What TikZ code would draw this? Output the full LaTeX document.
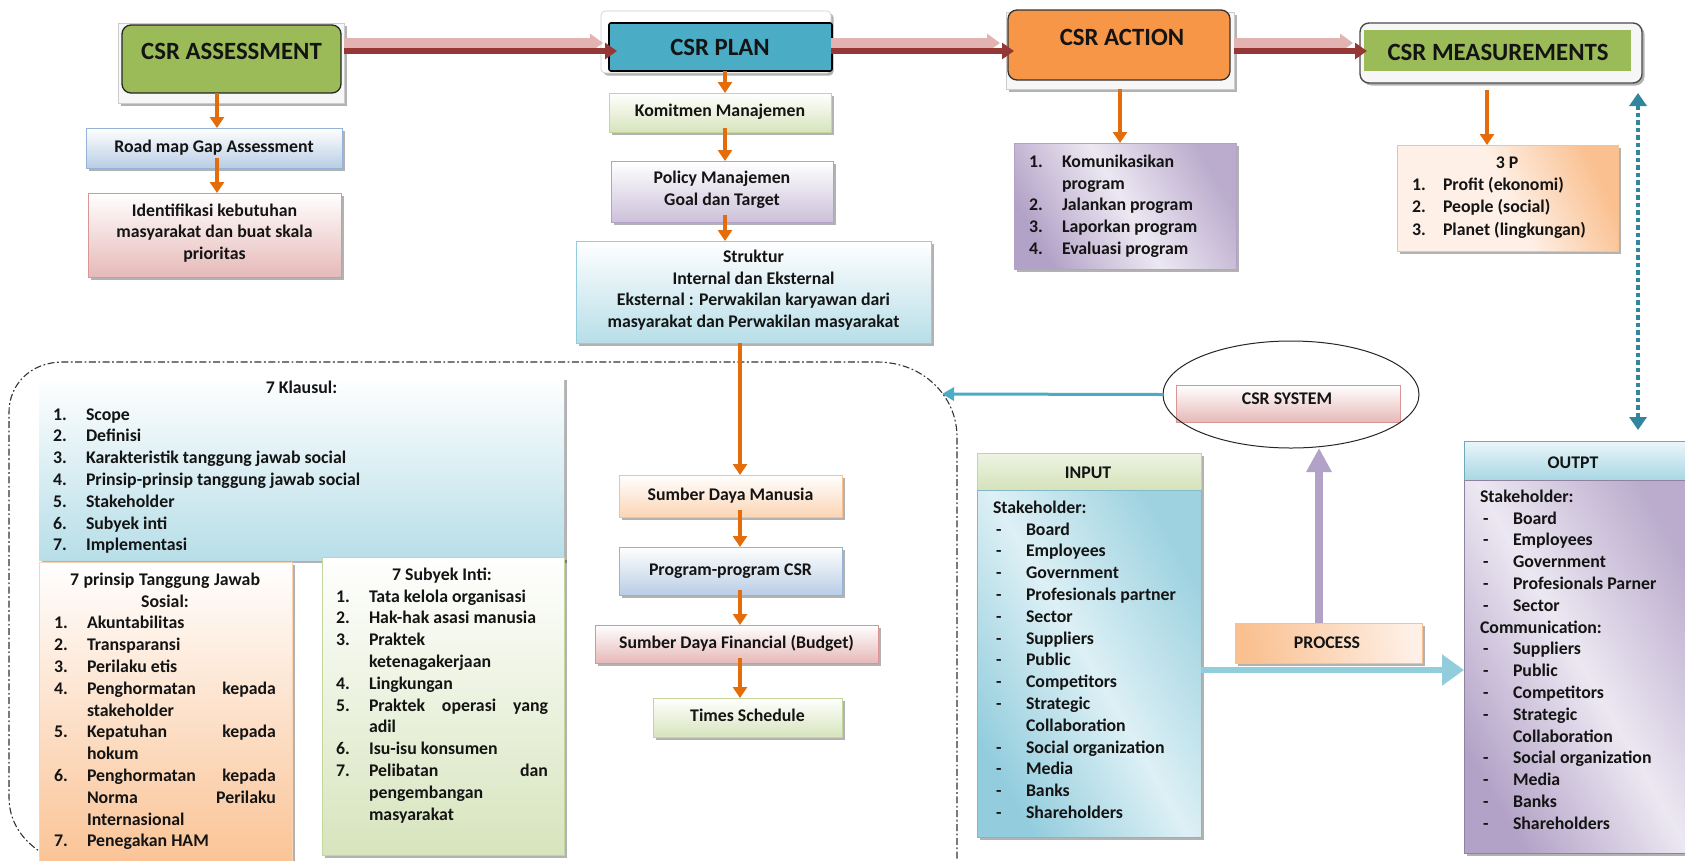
\documentclass[tikz,border=0pt]{standalone}
\usepackage{fontspec}
\setmainfont{Carlito}
\usetikzlibrary{arrows.meta,shadows,calc,shapes.geometric}
\definecolor{oGreen}{HTML}{9BBB59}
\definecolor{oBlue}{HTML}{4BACC6}
\definecolor{oOrange}{HTML}{F79646}
\definecolor{arrOrange}{HTML}{E46C0A}
\definecolor{redDark}{HTML}{953735}
\definecolor{redLight}{HTML}{E3B3B2}
\definecolor{tBlue}{HTML}{B9CDE5}
\definecolor{bBlue}{HTML}{95B3D7}
\definecolor{tPink}{HTML}{E6B9B8}
\definecolor{bPink}{HTML}{D99694}
\definecolor{tGreen}{HTML}{D7E4BD}
\definecolor{bGreen}{HTML}{C3D69B}
\definecolor{tPurple}{HTML}{CCC1DA}
\definecolor{bPurple}{HTML}{B3A2C7}
\definecolor{tAqua}{HTML}{B7DEE8}
\definecolor{bAqua}{HTML}{93CDDD}
\definecolor{tOrange}{HTML}{FCD5B5}
\definecolor{bOrange}{HTML}{FAC090}
\definecolor{dTeal}{HTML}{31859C}
\definecolor{lTeal}{HTML}{92CDDC}
\definecolor{aquaLight}{HTML}{DDF0F5}
\definecolor{purpLight}{HTML}{ECE8F2}
\definecolor{orLight}{HTML}{FEF0E6}
\definecolor{grLight}{HTML}{EEF3E3}
\newcommand{\Ln}[3][33pt]{\strut\makebox[#1][l]{#2}#3}
\newcommand{\Lc}[2]{\strut\makebox[#1][c]{#2}}
\newcommand{\Lx}[1]{\strut\hspace*{33pt}#1}
\newcommand{\Lj}[3]{\hbox to #1{\strut\makebox[33pt][l]{#2}#3}}
\newcommand{\Ld}[1]{\strut\hspace*{3pt}\makebox[30pt][l]{-}#1}
\begin{document}
\begin{tikzpicture}[x=1pt,y=-1pt,
  every node/.style={inner sep=0pt,outer sep=0pt},
  txt/.style={font=\fontsize{17.8}{21.8}\selectfont\bfseries,text=black!92},
  ttl/.style={font=\fontsize{24.8}{28}\selectfont\bfseries,text=black!92},
  shd/.style={drop shadow={shadow xshift=2.5pt,shadow yshift=-2.5pt,opacity=.3,fill=black}},
  gbox/.style 2 args={rectangle,txt,align=center,draw=#2,line width=.8pt,top color=white,bottom color=#1,shd,execute at begin node=\strut},
  dbox/.style={rectangle,txt,line width=.8pt,shd},
  tframe/.style={rectangle,draw=gray!40,fill=gray!6,line width=.6pt,shd},
  lst/.style={txt,align=left,anchor=north west},
  oarrow/.style={draw=arrOrange,line width=4pt,-{Triangle[length=11pt,width=14pt]}},
  redback/.style={draw=redLight,line width=10pt,-{Triangle[length=13pt,width=18pt]}},
  redfront/.style={draw=redDark,line width=5.5pt,-{Triangle[length=12pt,width=16pt]}},
  tarrow/.style={draw=oBlue,line width=3pt,-{Triangle[length=12pt,width=13pt]}},
  parrow/.style={draw=bPurple,line width=8pt,-{Triangle[length=24pt,width=24pt]}},
  bigarrow/.style={draw=lTeal,line width=6pt,-{Triangle[length=22pt,width=30pt]}},
  dotarrow/.style={draw=dTeal,line width=4.5pt,dash pattern=on 4.5pt off 3pt,{Triangle[length=13pt,width=17pt]}-{Triangle[length=13pt,width=17pt]}},
  border/.style={draw=black!80,line width=1.1pt,dash pattern=on 7pt off 2.5pt on 1.8pt off 2.5pt},
]
\useasboundingbox (0,0) rectangle (1685,860);

% dashed system border
\draw[border] (957,900) -- (957,437) .. controls (957,396) and (923,362) .. (877,362)
  -- (63,362) .. controls (30,362) and (9,385) .. (9,412) -- (9,797)
  .. controls (9,835) and (40,862) .. (95,872) -- (957,872);

% ---------- top row ----------
\node[tframe,minimum width=226pt,minimum height=80pt] (assessF) at (231,63) {};
\node[draw=black!85,line width=1.3pt,fill=oGreen,rounded corners=9pt,minimum width=219pt,minimum height=68pt] (assess) at (231.5,59) {};
\node[ttl] (assessT) at (231.5,51) {CSR ASSESSMENT};

\node[tframe,fill=white,rounded corners=4pt,minimum width=230pt,minimum height=62pt] (planF) at (716,42) {};
\node[draw=black,line width=1.6pt,fill=oBlue,rounded corners=2pt,minimum width=223pt,minimum height=48pt] (plan) at (720.5,47) {};
\node[ttl] (planT) at (720,47) {CSR PLAN};

\node[tframe,minimum width=228pt,minimum height=77pt] (actionF) at (1120,50.5) {};
\node[draw=black!80,line width=1.3pt,fill=oOrange,rounded corners=9pt,minimum width=222pt,minimum height=70pt] (action) at (1119,45) {};
\node[ttl] (actionT) at (1122,37) {CSR ACTION};

\node[draw=black!70,line width=1.4pt,fill=gray!7,rounded corners=9pt,shd,minimum width=282pt,minimum height=60pt] (measF) at (1501,53) {};
\node[fill=oGreen,minimum width=267pt,minimum height=41pt] (meas) at (1497.5,50.5) {};
\node[ttl] (measT) at (1498,52) {CSR MEASUREMENTS};

% assessment column
\node[gbox={tBlue}{bBlue},minimum width=256pt,minimum height=40pt] (road) at (214,148) {Road map Gap Assessment};
\node[gbox={tPink}{bPink},minimum width=253pt,minimum height=84pt] (ident) at (214.5,235)
  {Identifikasi kebutuhan\\\strut masyarakat dan buat skala\\\strut prioritas};

% plan column
\node[gbox={tGreen}{bGreen},minimum width=222pt,minimum height=39pt] (kom) at (720,112.5) {Komitmen Manajemen};
\node[gbox={tPurple}{bPurple},minimum width=222pt,minimum height=61pt] (pol) at (722,191.5) {Policy Manajemen\\\strut Goal dan Target};
\node[gbox={tAqua}{bAqua},minimum width=355pt,minimum height=102pt] (str) at (753.5,292)
  {Struktur\\\strut Internal dan Eksternal\\\strut Eksternal : Perwakilan karyawan dari\\\strut masyarakat dan Perwakilan masyarakat};

% action column
\node[dbox,draw=bPurple,left color=bPurple,right color=bPurple!90,middle color=purpLight,shading angle=120,minimum width=222pt,minimum height=126pt] (komu) at (1125,206) {};
\node[lst] (komuT) at (1029,152) {\Ln{1.}{Komunikasikan}\\\Lx{program}\\\Ln{2.}{Jalankan program}\\\Ln{3.}{Laporkan program}\\\Ln{4.}{Evaluasi program}};

% measurement column
\node[dbox,draw=bOrange,left color=orLight,right color=bOrange,middle color=orLight,shading angle=115,minimum width=221pt,minimum height=106pt] (p3) at (1507.5,198) {};
\node[lst] (p3T) at (1412,153) {\Lc{190pt}{3 P}\\[0.5pt]\Ln[31pt]{1.}{Profit (ekonomi)}\\[0.5pt]\Ln[31pt]{2.}{People (social)}\\[0.5pt]\Ln[31pt]{3.}{Planet (lingkungan)}};

% ---------- system area ----------
\node[gbox={tAqua}{none},draw=none,minimum width=525pt,minimum height=183pt] (klaus) at (301.5,468.5) {};
\node[lst] (klausT) at (53,378) {\Lc{497pt}{7 Klausul:}\\[5pt]
  \Ln{1.}{Scope}\\\Ln{2.}{Definisi}\\\Ln{3.}{Karakteristik tanggung jawab social}\\
  \Ln{4.}{Prinsip-prinsip tanggung jawab social}\\\Ln{5.}{Stakeholder}\\\Ln{6.}{Subyek inti}\\\Ln{7.}{Implementasi}};

\node[gbox={bOrange}{bOrange!70},minimum width=253pt,minimum height=318pt] (prin) at (165.5,721) {};
\node[lst] (prinT) at (54,570) {\Lc{222pt}{\hbox to 190pt{7\hfill prinsip\hfill Tanggung\hfill Jawab}}\\\Lc{222pt}{Sosial:}\\
  \Ln{1.}{Akuntabilitas}\\\Ln{2.}{Transparansi}\\\Ln{3.}{Perilaku etis}\\
  \Lj{222pt}{4.}{Penghormatan\hfill kepada}\\\Lx{stakeholder}\\
  \Lj{222pt}{5.}{Kepatuhan\hfill kepada}\\\Lx{hokum}\\
  \Lj{222pt}{6.}{Penghormatan\hfill kepada}\\\hbox to 222pt{\strut\hspace*{33pt}Norma\hfill Perilaku}\\\Lx{Internasional}\\
  \Ln{7.}{Penegakan HAM}};

\node[gbox={tGreen}{bGreen},minimum width=242pt,minimum height=298pt] (suby) at (443,706) {};
\node[lst] (subyT) at (336,565) {\Lc{212pt}{7 Subyek Inti:}\\
  \Ln{1.}{Tata kelola organisasi}\\\Ln{2.}{Hak-hak asasi manusia}\\\Ln{3.}{Praktek}\\\Lx{ketenagakerjaan}\\
  \Ln{4.}{Lingkungan}\\\Lj{212pt}{5.}{Praktek\hfill operasi\hfill yang}\\\Lx{adil}\\
  \Ln{6.}{Isu-isu konsumen}\\\Lj{212pt}{7.}{Pelibatan\hfill dan}\\\Lx{pengembangan}\\\Lx{masyarakat}};

\node[gbox={tOrange}{bOrange},minimum width=223pt,minimum height=42pt] (sdm) at (730.5,496) {Sumber Daya Manusia};
\node[gbox={tBlue}{bBlue},minimum width=223pt,minimum height=48pt] (prog) at (730.5,571) {Program-program CSR};
\node[gbox={tPink}{bPink},minimum width=283pt,minimum height=38pt] (fin) at (736.5,644) {Sumber Daya Financial (Budget)};
\node[gbox={tGreen}{bGreen},minimum width=189pt,minimum height=39pt] (times) at (747.5,717.5) {Times Schedule};

% ---------- CSR system, input, process, output ----------
\node[rectangle,draw=bPink,line width=.8pt,top color=white,bottom color=tPink,minimum width=224pt,minimum height=37pt] (sysbox) at (1288,403.5) {};
\node[txt] (sysT) at (1287,399) {CSR SYSTEM};
\node[ellipse,draw=black!85,line width=1pt,minimum width=256pt,minimum height=107pt] (sys) at (1291,394.5) {};

\node[dbox,draw=bGreen,top color=grLight,bottom color=tGreen!90!bGreen,minimum width=224pt,minimum height=37pt] (inH) at (1089,471.5) {};
\node[txt] (inHT) at (1088,473) {INPUT};
\node[dbox,draw=bAqua!90!black,left color=bAqua,right color=bAqua!90,middle color=aquaLight,shading angle=120,minimum width=224pt,minimum height=347pt] (inB) at (1089,663.5) {};
\node[lst] (inT) at (993,498) {\strut Stakeholder:\\\Ld{Board}\\\Ld{Employees}\\\Ld{Government}\\\Ld{Profesionals partner}\\
  \Ld{Sector}\\\Ld{Suppliers}\\\Ld{Public}\\\Ld{Competitors}\\\Ld{Strategic}\\\Lx{Collaboration}\\
  \Ld{Social organization}\\\Ld{Media}\\\Ld{Banks}\\\Ld{Shareholders}};

\node[dbox,draw=bOrange,left color=bOrange,right color=orLight,shading angle=100,minimum width=187pt,minimum height=40pt] (process) at (1328.5,643) {};
\node[txt] (processT) at (1327,643) {PROCESS};

\node[dbox,draw=dTeal!70,top color=aquaLight!60,bottom color=bAqua!80,minimum width=236pt,minimum height=39pt] (outH) at (1582,460.5) {};
\node[txt] (outHT) at (1573,463) {OUTPT};
\node[dbox,draw=bPurple!80!black,left color=bPurple,right color=bPurple!90,middle color=purpLight,shading angle=120,minimum width=236pt,minimum height=373pt] (outB) at (1582,666.5) {};
\node[lst] (outT) at (1480,487) {\strut Stakeholder:\\\Ld{Board}\\\Ld{Employees}\\\Ld{Government}\\\Ld{Profesionals Parner}\\
  \Ld{Sector}\\\strut Communication:\\\Ld{Suppliers}\\\Ld{Public}\\\Ld{Competitors}\\\Ld{Strategic}\\\Lx{Collaboration}\\
  \Ld{Social organization}\\\Ld{Media}\\\Ld{Banks}\\\Ld{Shareholders}};

% ---------- connectors ----------
\coordinate (rb) at (0,43);
\coordinate (rf) at (0,51);
\draw[redback] (assessF.east |- rb) -- ($(plan.west |- rb)+(-6,0)$);
\draw[redfront] (assessF.east |- rf) -- ($(plan.west |- rf)+(8,0)$);
\draw[redback] (planF.east |- rb) -- ($(action.west |- rb)+(-8,0)$);
\draw[redfront] (planF.east |- rf) -- ($(action.west |- rf)+(6,0)$);
\draw[redback] (actionF.east |- rb) -- ($(measF.west |- rb)+(-7,0)$);
\draw[redfront] (actionF.east |- rf) -- ($(measF.west |- rf)+(7,0)$);

\coordinate (xa) at (217,0);
\draw[oarrow] (xa |- assess.south) -- (xa |- road.north);
\draw[oarrow] ($(xa |- road.south)+(0,-10)$) -- (xa |- ident.north);
\coordinate (xp) at (725,0);
\draw[oarrow] (xp |- plan.south) -- (xp |- kom.north);
\draw[oarrow] ($(xp |- kom.south)+(0,-4)$) -- (xp |- pol.north);
\draw[oarrow] ($(xp |- pol.south)+(0,-7)$) -- (xp |- str.north);
\coordinate (xq) at (740,0);
\draw[oarrow] (xq |- str.south) -- (xq |- sdm.north);
\draw[oarrow] ($(xq |- sdm.south)+(0,-7)$) -- (xq |- prog.north);
\draw[oarrow] ($(xq |- prog.south)+(0,-5)$) -- (xq |- fin.north);
\draw[oarrow] ($(xq |- fin.south)+(0,-5)$) -- (xq |- times.north);
\coordinate (xc) at (1120,0);
\draw[oarrow] (xc |- actionF.south) -- (xc |- komu.north);
\coordinate (xm) at (1487,0);
\draw[oarrow] ($(xm |- measF.south)+(0,7)$) -- (xm |- p3.north);

\coordinate (btip) at (942,394);
\draw[tarrow] (sys.west) -- (btip);
\coordinate (xpp) at (1319,0);
\draw[parrow] (xpp |- process.north) -- (xpp |- sys.south);
\coordinate (yt) at (0,670);
\draw[bigarrow] (inB.east |- yt) -- (outB.west |- yt);
\coordinate (xd) at (1638,0);
\draw[dotarrow] ($(xd |- measF.south)+(0,10)$) -- ($(xd |- outH.north)+(0,-11)$);
\end{tikzpicture}
\end{document}
